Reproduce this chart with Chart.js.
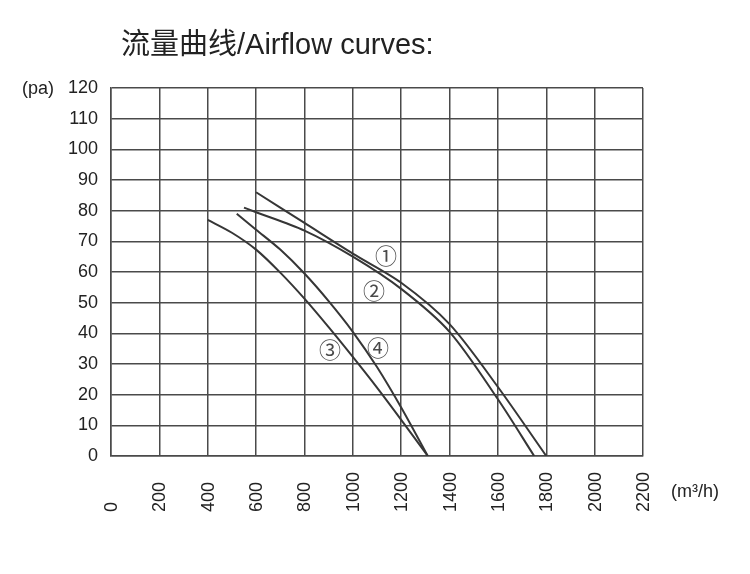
<!DOCTYPE html>
<html>
<head>
<meta charset="utf-8">
<script src="https://cdn.jsdelivr.net/npm/chart.js@4.4.1/dist/chart.umd.min.js"></script>
<style>
  html, body { margin: 0; padding: 0; background: #fff; }
  #wrap { width: 750px; height: 574px; }
</style>
</head>
<body>
<div id="wrap"><canvas id="airflow-chart" width="750" height="574"></canvas></div>
<script>
// axis ticks
var flowTicks = [0, 200, 400, 600, 800, 1000, 1200, 1400, 1600, 1800, 2000, 2200];
var pressureTicks = [0, 10, 20, 30, 40, 50, 60, 70, 80, 90, 100, 110, 120];

// curve 1
var curve1Flow = [600, 800, 1000, 1200, 1400, 1600, 1800];
var curve1Pa   = [86, 76, 66, 56.5, 43, 22.5, 0];
// curve 2
var curve2Flow = [550, 600, 800, 1000, 1200, 1400, 1600, 1750];
var curve2Pa   = [81, 79.5, 73.5, 65, 54.5, 40.5, 18.5, 0];
// curve 3
var curve3Flow = [400, 500, 600, 700, 800, 900, 1000, 1100, 1200, 1310];
var curve3Pa   = [77, 72.8, 67.3, 59.8, 51.3, 42, 32.3, 22.3, 11.8, 0];
// curve 4
var curve4Flow = [520, 600, 700, 800, 900, 1000, 1100, 1200, 1310];
var curve4Pa   = [79, 73.8, 67.3, 59.5, 50.5, 40.5, 29, 15.8, 0];

// circled curve labels
var markLabels = ['①', '②', '③', '④'];
var markFlow   = [1137, 1088, 906, 1104];
var markPa     = [65.2, 53.8, 34.6, 35.2];

function toPoints(xs, ys) {
    return xs.map(function (x, i) { return { x: x, y: ys[i] }; });
}

function curve(xs, ys) {
    return {
        data: toPoints(xs, ys),
        borderColor: '#363636',
        borderWidth: 2,
        pointRadius: 0,
        fill: false,
        showLine: true,
        tension: 0.3
    };
}

var gridColor = '#4a4a4a';
var textColor = '#222';
var tickFont = '18px "Liberation Sans", Arial, sans-serif';

// draws title, unit labels, rotated x labels and circled marks
var extras = {
    id: 'extras',
    afterDraw: function (chart) {
        var ctx = chart.ctx;
        var xs = chart.scales.x, ys = chart.scales.y;
        ctx.save();

        ctx.fillStyle = textColor;
        ctx.font = '29px "Liberation Sans", "Noto Sans CJK SC", sans-serif';
        ctx.textAlign = 'left';
        ctx.textBaseline = 'middle';
        ctx.fillText('流量曲线/Airflow curves:', 121, 46);

        ctx.font = tickFont;
        ctx.fillText('(pa)', 22, 89);
        ctx.fillText('(m³/h)', 671, 492);

        // x tick labels, rotated, reading bottom to top
        flowTicks.forEach(function (v) {
            var px = xs.getPixelForValue(v);
            ctx.save();
            ctx.translate(px + 1, 512);
            ctx.rotate(-Math.PI / 2);
            ctx.textAlign = 'left';
            ctx.textBaseline = 'middle';
            ctx.fillText(String(v), 0, 0);
            ctx.restore();
        });

        // circled numbers
        ctx.fillStyle = '#4a4a4a';
        ctx.font = '22px "Noto Sans CJK SC", "DejaVu Sans", sans-serif';
        ctx.textAlign = 'center';
        ctx.textBaseline = 'middle';
        markLabels.forEach(function (t, i) {
            ctx.fillText(t, xs.getPixelForValue(markFlow[i]), ys.getPixelForValue(markPa[i]));
        });

        ctx.restore();
    }
};

var airflowChartNode = document.getElementById('airflow-chart').getContext('2d');
var airflowChart = new Chart(airflowChartNode, {
    type: 'scatter',
    data: {
        datasets: [
            curve(curve1Flow, curve1Pa),
            curve(curve2Flow, curve2Pa),
            curve(curve3Flow, curve3Pa),
            curve(curve4Flow, curve4Pa)
        ]
    },
    options: {
        responsive: false,
        animation: false,
        layout: {
            padding: { top: 88, right: 107, bottom: 0, left: 0 }
        },
        plugins: {
            legend: { display: false },
            title: { display: false },
            tooltip: { enabled: false }
        },
        scales: {
            x: {
                type: 'linear',
                min: 0,
                max: 2200,
                afterBuildTicks: function (scale) {
                    scale.ticks = flowTicks.map(function (v) { return { value: v }; });
                },
                afterFit: function (scale) { scale.height = 118; },
                ticks: { display: false },
                grid: { color: gridColor, lineWidth: 1.5, drawTicks: false },
                border: { color: gridColor, width: 1.5 }
            },
            y: {
                type: 'linear',
                min: 0,
                max: 120,
                afterBuildTicks: function (scale) {
                    scale.ticks = pressureTicks.map(function (v) { return { value: v }; });
                },
                afterFit: function (scale) { scale.width = 111; },
                ticks: {
                    color: textColor,
                    font: { family: '"Liberation Sans", Arial, sans-serif', size: 18 },
                    padding: 13
                },
                grid: { color: gridColor, lineWidth: 1.5, drawTicks: false },
                border: { color: gridColor, width: 1.5 }
            }
        }
    },
    plugins: [extras]
});
</script>
</body>
</html>
